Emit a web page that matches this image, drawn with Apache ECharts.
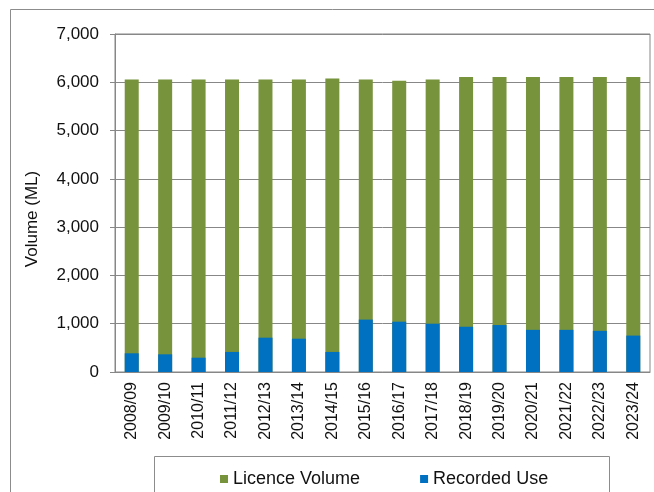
<!DOCTYPE html>
<html>
<head>
<meta charset="utf-8">
<script src="https://cdn.jsdelivr.net/npm/echarts@6/dist/echarts.min.js"></script>
<style>
  html, body { margin: 0; padding: 0; background: #fff; }
  #chart { width: 654px; height: 492px; }
</style>
</head>
<body>
<div id="chart"></div>
<script>
var years = ['2008/09','2009/10','2010/11','2011/12','2012/13','2013/14','2014/15','2015/16',
             '2016/17','2017/18','2018/19','2019/20','2020/21','2021/22','2022/23','2023/24'];
var licenceVolume = [6060, 6060, 6060, 6060, 6060, 6060, 6080, 6060,
                     6030, 6060, 6110, 6110, 6110, 6110, 6110, 6110];
var recordedUse = [387, 366, 296, 415, 711, 690, 415, 1085,
                   1042, 1000, 937, 972, 873, 873, 852, 754];
var yTicks = [0, 1000, 2000, 3000, 4000, 5000, 6000, 7000];

var fontName = 'Arial, "Liberation Sans", sans-serif';
var lineGrey = '#878787';

var chart = echarts.init(document.getElementById('chart'));
var option = {
    animation: false,
    textStyle: { fontFamily: fontName },
    graphic: [
        {   // outer chart frame
            type: 'rect', silent: true, z: -1,
            shape: { x: 10.5, y: 9.5, width: 700, height: 600 },
            style: { fill: null, stroke: '#8c8c8c', lineWidth: 1 }
        },
        {   // legend frame
            type: 'rect', silent: true, z: -1,
            shape: { x: 154.5, y: 456.5, width: 455, height: 100 },
            style: { fill: null, stroke: '#8c8c8c', lineWidth: 1 }
        }
    ],
    grid: {
        left: 115, right: 4, top: 34, bottom: 120,
        show: true, borderColor: lineGrey, borderWidth: 1
    },
    legend: {
        left: 215, top: 465,
        itemWidth: 8, itemHeight: 8, itemGap: 60,
        icon: 'rect',
        textStyle: { fontSize: 18, color: '#111', fontFamily: fontName },
        data: ['Licence Volume', 'Recorded Use']
    },
    xAxis: {
        type: 'category',
        data: years,
        axisLine: { lineStyle: { color: lineGrey } },
        axisTick: { length: 5, lineStyle: { color: lineGrey } },
        axisLabel: { rotate: 90, margin: 10, fontSize: 16, color: '#111', interval: 0 }
    },
    yAxis: {
        type: 'value',
        min: yTicks[0], max: yTicks[yTicks.length - 1], interval: 1000,
        name: 'Volume (ML)',
        nameLocation: 'middle',
        nameGap: 74,
        nameTextStyle: { fontSize: 17, color: '#111', padding: [0, 32, 0, 0] },
        axisLine: { show: true, lineStyle: { color: lineGrey } },
        axisTick: { show: true, length: 5, lineStyle: { color: lineGrey } },
        splitLine: { lineStyle: { color: lineGrey } },
        axisLabel: {
            margin: 16, fontSize: 17, color: '#111',
            formatter: function (v) { return v.toLocaleString('en-US'); }
        }
    },
    series: [
        {
            name: 'Licence Volume',
            type: 'bar',
            barWidth: 14,
            barGap: '-100%',
            itemStyle: { color: '#77933C' },
            data: licenceVolume
        },
        {
            name: 'Recorded Use',
            type: 'bar',
            barWidth: 14,
            barGap: '-100%',
            itemStyle: { color: '#0070C0' },
            data: recordedUse
        }
    ]
};
chart.setOption(option);
</script>
</body>
</html>
